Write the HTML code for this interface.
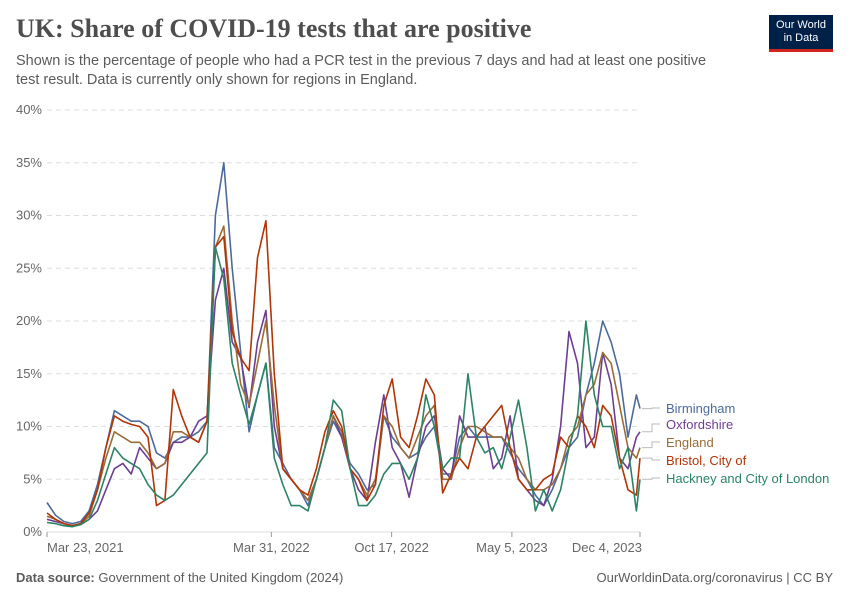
<!DOCTYPE html>
<html><head><meta charset="utf-8">
<style>
body{margin:0;background:#fff;font-family:"Liberation Sans",sans-serif;}
#wrap{position:relative;width:850px;height:600px;overflow:hidden;}
.t{position:absolute;white-space:nowrap;}
</style></head><body>
<div id="wrap">
<div class="t" style="left:16px;top:14px;font-family:'Liberation Serif',serif;font-size:26px;font-weight:bold;color:#4e4e4e;">UK: Share of COVID-19 tests that are positive</div>
<div class="t" style="left:16px;top:52px;font-size:14.5px;line-height:19px;color:#5b5b5b;white-space:normal;width:700px;">Shown is the percentage of people who had a PCR test in the previous 7 days and had at least one positive test result. Data is currently only shown for regions in England.</div>
<div style="position:absolute;left:769px;top:15px;width:64px;height:37px;background:#002147;border-bottom:3px solid #ce261e;box-sizing:border-box;color:#fff;font-size:11px;line-height:13px;text-align:center;padding-top:4px;">Our World<br>in Data</div>
<svg id="svg" width="850" height="600" style="position:absolute;left:0;top:0"></svg>
<div class="t" style="left:16px;top:570px;font-size:13px;color:#5b5b5b;"><b>Data source:</b> Government of the United Kingdom (2024)</div>
<div class="t" style="right:17px;top:570px;font-size:13px;color:#5b5b5b;">OurWorldinData.org/coronavirus | CC BY</div>
</div>
<script>
const yTicks=[0,5,10,15,20,25,30,35,40];
const xTickLabels=["Mar 23, 2021","Mar 31, 2022","Oct 17, 2022","May 5, 2023","Dec 4, 2023"];
const xTickDays=[0,373,573,773,986];
const stepDays=14;
const seriesNames=["Birmingham","Oxfordshire","England","Bristol, City of","Hackney and City of London"];
const birmingham=[2.8,1.6,1.0,0.8,1.0,2,4.5,8,11.5,11,10.5,10.5,10,7.5,7,8.5,9,9,9.5,10.5,30,35,25,17,9.5,13,16,8,6.5,5,4,2.5,5,8,10.5,9,6.5,5.5,4,4.5,11,9,8,7,7.5,9,10,5.5,5.5,9,10,9,9,9,9,7.5,6,5,3.5,2.5,4,6,8,9,13,16,20,18,15,9,13,11.7];
const oxfordshire=[1.2,1.0,0.8,0.6,0.7,1.2,2,4,6,6.5,5.5,8,7,6,6.5,8.5,8.5,9,10.5,11,22,25,18,16.5,11.8,18,21,10,6,5,4,3,5,8,11,9,6,4,3,8.5,13,8,6.5,3.3,7,10,11,6,5,11,9,9,10,6,7,11,5,4,3,2.5,5,10,19,16,8,9,17,14,7,6,9,9.5];
const england=[1.5,1.2,0.8,0.6,0.8,1.5,4,7,9.5,9,8.5,8.5,7.5,6,6.5,9.5,9.5,9,8.5,10.5,27,29,20,14,12,16,20,12,6,5,4,3,5,8,11,9.5,6,5,3.5,5,11,10,8,7,9,11,12,5,5,8,10,10,9.5,9,9,8,7,5,4,4,4.5,6,9,10,13,14,17,16,12,8,7,8];
const bristol=[1.8,1.2,0.8,0.6,0.8,1.8,4,8,11,10.5,10.2,10,9,2.5,3,13.5,11,9,8.5,10.5,27,28,19,16.5,15.3,26,29.5,15,6,5,4,3.5,6,9.5,11.5,10,6,5,3,4.5,12,14.5,9,8,11,14.5,13,3.7,5.5,7,6,9,10,11,12,8,5,4,4,5,5.5,9,8,11,10,8,12,11,7,4,3.5,7];
const hackney=[0.9,0.8,0.6,0.5,0.7,1.2,3,5.5,8,7,6.5,6,4.5,3.5,3,3.5,4.5,5.5,6.5,7.5,27,24,16,13,10.2,13,16,7,4.5,2.5,2.5,2,5,8,12.5,11.5,6,2.5,2.5,3.5,5.5,6.5,6.5,5,7,13,10,6,7,7,15,9,7.5,8,6,9,12.5,8,2,4,2,4,8,11,20,13,10,10,6,8,2,5];
const colors=["#4c6a9c","#6d3e91","#996d39","#b13507","#2c8465"];
const labelY=[408,424,442,460,478];
const allSeries=[birmingham,oxfordshire,england,bristol,hackney];

const svg=document.getElementById('svg');
const NS='http://www.w3.org/2000/svg';
const x0=47,x1=640,yTop=110,yBot=532,maxDay=986,maxY=40;
const xs=d=>x0+(x1-x0)*d/maxDay;
const ys=v=>yBot-(yBot-yTop)*v/maxY;
function mk(tag,attrs){const e=document.createElementNS(NS,tag);for(const k in attrs)e.setAttribute(k,attrs[k]);svg.appendChild(e);return e;}
yTicks.forEach(v=>{
  const l=mk('line',{x1:x0,x2:x1,y1:ys(v),y2:ys(v),stroke:'#ddd','stroke-dasharray':v===0?'none':'5,4'});
  
  
  const t=mk('text',{x:42,y:ys(v)+4,'text-anchor':'end','font-size':13,fill:'#666','font-family':'Liberation Sans'});
  t.textContent=v+'%';
  
  
});
xTickLabels.forEach((lab,i)=>{
  const x=xs(xTickDays[i]);
  const tk=mk('line',{x1:x,x2:x,y1:yBot,y2:yBot+5,stroke:'#999'});
  
  
  let anchor=i===0?'start':(i===xTickLabels.length-1?'end':'middle');
  const t=mk('text',{x:i===0?x0:(i===xTickLabels.length-1?x1+2:x),y:552,'text-anchor':anchor,'font-size':13,fill:'#666','font-family':'Liberation Sans'});
  t.textContent=lab;
  
  
});
allSeries.forEach((s,si)=>{
  const pts=s.map((v,i)=>{const d=Math.min(i*stepDays,maxDay);return xs(d).toFixed(1)+','+ys(v).toFixed(1);});
  const p=mk('polyline',{points:pts.join(' '),fill:'none',stroke:colors[si],'stroke-width':1.6,'stroke-linejoin':'round'});
  
  
  const last=s[s.length-1];
  const c=mk('path',{d:`M${x1+2},${ys(last)} H${x1+12} V${labelY[si]} H${x1+20}`,fill:'none',stroke:'#bbb','stroke-width':1});
  
  
  const t=mk('text',{x:666,y:labelY[si]+5,'font-size':13,fill:colors[si],'font-family':'Liberation Sans'});
  t.textContent=seriesNames[si];
  
  
});
</script>
</body></html>
